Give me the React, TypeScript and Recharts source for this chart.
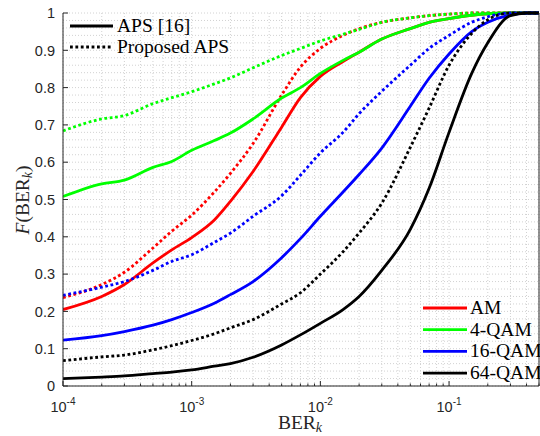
import React from 'react';
import { LineChart, Line, XAxis, YAxis, CartesianGrid } from 'recharts';

// BER_k sample points (log scale)
const berValues = [
  1e-4, 2e-4, 3e-4, 5e-4, 7e-4, 1e-3, 1.5e-3, 2e-3, 3e-3, 5e-3, 7e-3, 1e-2,
  1.5e-2, 2e-2, 3e-2, 5e-2, 7e-2, 0.1, 0.15, 0.2, 0.3, 0.4, 0.5,
];

// empirical CDF F(BER_k), APS [16] (solid) and proposed APS (dotted)
const amAps = [0.205, 0.24, 0.272, 0.33, 0.365, 0.398, 0.445, 0.495, 0.575, 0.694, 0.773, 0.83, 0.87, 0.895, 0.93, 0.958, 0.975, 0.985, 0.994, 0.998, 1, 1, 1];
const amProp = [0.237, 0.272, 0.305, 0.37, 0.415, 0.458, 0.52, 0.57, 0.65, 0.78, 0.855, 0.905, 0.94, 0.958, 0.975, 0.987, 0.993, 0.997, 1, 1, 1, 1, 1];
const qam4Aps = [0.508, 0.542, 0.552, 0.586, 0.602, 0.632, 0.658, 0.678, 0.716, 0.772, 0.8, 0.838, 0.873, 0.895, 0.93, 0.958, 0.975, 0.985, 0.994, 0.998, 1, 1, 1];
const qam4Prop = [0.684, 0.716, 0.725, 0.757, 0.773, 0.789, 0.81, 0.826, 0.853, 0.886, 0.905, 0.925, 0.943, 0.956, 0.975, 0.987, 0.993, 0.997, 1, 1, 1, 1, 1];
const qam16Aps = [0.123, 0.135, 0.146, 0.163, 0.178, 0.197, 0.222, 0.245, 0.28, 0.344, 0.395, 0.455, 0.52, 0.567, 0.638, 0.75, 0.825, 0.89, 0.95, 0.975, 0.995, 1, 1];
const qam16Prop = [0.243, 0.265, 0.28, 0.31, 0.334, 0.352, 0.385, 0.41, 0.455, 0.51, 0.565, 0.625, 0.68, 0.73, 0.79, 0.86, 0.905, 0.94, 0.975, 0.99, 1, 1, 1];
const qam64Aps = [0.02, 0.024, 0.027, 0.033, 0.037, 0.043, 0.053, 0.06, 0.077, 0.11, 0.137, 0.168, 0.205, 0.24, 0.31, 0.42, 0.53, 0.68, 0.838, 0.92, 0.993, 1, 1];
const qam64Prop = [0.068, 0.078, 0.083, 0.097, 0.108, 0.122, 0.14, 0.156, 0.178, 0.22, 0.25, 0.3, 0.36, 0.41, 0.49, 0.64, 0.745, 0.86, 0.945, 0.982, 1, 1, 1];

const yTicks = [0, 0.1, 0.2, 0.3, 0.4, 0.5, 0.6, 0.7, 0.8, 0.9, 1];
const yTickLabels = ['0', '0.1', '0.2', '0.3', '0.4', '0.5', '0.6', '0.7', '0.8', '0.9', '1'];
const decades = [1e-4, 1e-3, 1e-2, 1e-1];
const decadeExponents = ['-4', '-3', '-2', '-1'];

const modulations = [
  { name: 'AM', color: '#ff0000', aps: 'amAps', prop: 'amProp' },
  { name: '4-QAM', color: '#00ff00', aps: 'qam4Aps', prop: 'qam4Prop' },
  { name: '16-QAM', color: '#0000ff', aps: 'qam16Aps', prop: 'qam16Prop' },
  { name: '64-QAM', color: '#000000', aps: 'qam64Aps', prop: 'qam64Prop' },
];

const data = berValues.map((x, i) => ({
  x,
  amAps: amAps[i],
  amProp: amProp[i],
  qam4Aps: qam4Aps[i],
  qam4Prop: qam4Prop[i],
  qam16Aps: qam16Aps[i],
  qam16Prop: qam16Prop[i],
  qam64Aps: qam64Aps[i],
  qam64Prop: qam64Prop[i],
}));

// minor log ticks 1..9 per decade, up to 0.5
const xTicks = decades
  .flatMap((d) => [1, 2, 3, 4, 5, 6, 7, 8, 9].map((k) => +(k * d).toPrecision(3)))
  .filter((v) => v <= 0.5);
const yGrid = Array.from({ length: 51 }, (_, i) => +(i * 0.02).toFixed(2));

const AXIS = '#262626';
const SANS = '"Liberation Sans", Arial, sans-serif';
const SERIF = '"Liberation Serif", "Times New Roman", serif';
const LW = 2.8;
const DOTS = '2.8 2.6';

const decadeIndex = (v: number) => decades.findIndex((d) => Math.abs(d - v) < d * 1e-6);

const BottomTick = (props: any) => {
  const { x, y, payload } = props;
  const di = decadeIndex(payload.value);
  return (
    <g>
      <line x1={x} y1={y} x2={x} y2={y - (di >= 0 ? 5 : 2.5)} stroke={AXIS} />
      {di >= 0 && (
        <text x={x} y={y + 26} textAnchor="middle" fontFamily={SANS} fontSize={14.5} fill={AXIS}>
          10<tspan dy={-7} fontSize={10}>{decadeExponents[di]}</tspan>
        </text>
      )}
    </g>
  );
};

const TopTick = (props: any) => {
  const { x, y, payload } = props;
  const di = decadeIndex(payload.value);
  return <line x1={x} y1={y} x2={x} y2={y + (di >= 0 ? 5 : 2.5)} stroke={AXIS} />;
};

const LeftTick = (props: any) => {
  const { x, y, index } = props;
  return (
    <g>
      <line x1={x} y1={y} x2={x + 5} y2={y} stroke={AXIS} />
      <text x={x - 8} y={y} dy="0.36em" textAnchor="end" fontFamily={SANS} fontSize={14.5} fill={AXIS}>
        {yTickLabels[index]}
      </text>
    </g>
  );
};

const RightTick = (props: any) => {
  const { x, y } = props;
  return <line x1={x} y1={y} x2={x - 5} y2={y} stroke={AXIS} />;
};

export default function App() {
  return (
    <div style={{ position: 'absolute', left: 0, top: 0, width: 540, height: 436, overflow: 'hidden', background: '#fff' }}>
      <LineChart width={540} height={436} data={data} margin={{ top: 13, right: 0, bottom: 0, left: 0 }}>
        <CartesianGrid
          verticalValues={xTicks}
          horizontalValues={yGrid}
          stroke="#d2d2d2"
          strokeDasharray="1 2"
        />
        <XAxis
          dataKey="x"
          type="number"
          scale="log"
          domain={[1e-4, 0.5]}
          allowDataOverflow
          ticks={xTicks}
          interval={0}
          height={50}
          tickSize={0}
          tickMargin={0}
          tick={BottomTick}
          stroke={AXIS}
        />
        <XAxis
          xAxisId="top"
          orientation="top"
          dataKey="x"
          type="number"
          scale="log"
          domain={[1e-4, 0.5]}
          allowDataOverflow
          ticks={xTicks}
          interval={0}
          height={0}
          tickSize={0}
          tickMargin={0}
          tick={TopTick}
          stroke={AXIS}
        />
        <YAxis
          type="number"
          domain={[0, 1]}
          ticks={yTicks}
          interval={0}
          width={63}
          tickSize={0}
          tickMargin={0}
          tick={LeftTick}
          stroke={AXIS}
        />
        <YAxis
          yAxisId="right"
          orientation="right"
          type="number"
          domain={[0, 1]}
          ticks={yTicks}
          interval={0}
          width={1}
          tickSize={0}
          tickMargin={0}
          tick={RightTick}
          stroke={AXIS}
        />
        {modulations.flatMap((m) => [
          <Line
            key={m.aps}
            dataKey={m.aps}
            type="monotone"
            stroke={m.color}
            strokeWidth={LW}
            dot={false}
            isAnimationActive={false}
          />,
          <Line
            key={m.prop}
            dataKey={m.prop}
            type="monotone"
            stroke={m.color}
            strokeWidth={LW}
            strokeDasharray={DOTS}
            dot={false}
            isAnimationActive={false}
          />,
        ])}
      </LineChart>

      <svg width={540} height={436} style={{ position: 'absolute', left: 0, top: 0, pointerEvents: 'none' }}>
        {/* line-style legend */}
        <line x1={70} y1={26} x2={113} y2={26} stroke="#000" strokeWidth={LW} />
        <text x={117} y={32} fontFamily={SERIF} fontSize={19.5}>APS [16]</text>
        <line x1={70} y1={47} x2={113} y2={47} stroke="#000" strokeWidth={LW} strokeDasharray={DOTS} />
        <text x={117} y={53} fontFamily={SERIF} fontSize={19.5}>Proposed APS</text>

        {/* modulation legend */}
        {modulations.map((m, i) => {
          const y = 308 + i * 21.7;
          return (
            <g key={m.name}>
              <line x1={423} y1={y} x2={467} y2={y} stroke={m.color} strokeWidth={LW} />
              <text x={470} y={y + 6} fontFamily={SERIF} fontSize={19.5}>{m.name}</text>
            </g>
          );
        })}

        {/* axis titles */}
        <text x={300} y={429} textAnchor="middle" fontFamily={SERIF} fontSize={19.5} fill={AXIS}>
          BER<tspan dy={3} fontSize={14} fontStyle="italic">k</tspan>
        </text>
        <text
          transform="translate(29,200) rotate(-90)"
          textAnchor="middle"
          fontFamily={SERIF}
          fontSize={19.5}
          fill={AXIS}
        >
          <tspan fontStyle="italic">F</tspan>(BER<tspan dy={3} fontSize={14} fontStyle="italic">k</tspan>
          <tspan dy={-3}>)</tspan>
        </text>
      </svg>
    </div>
  );
}
